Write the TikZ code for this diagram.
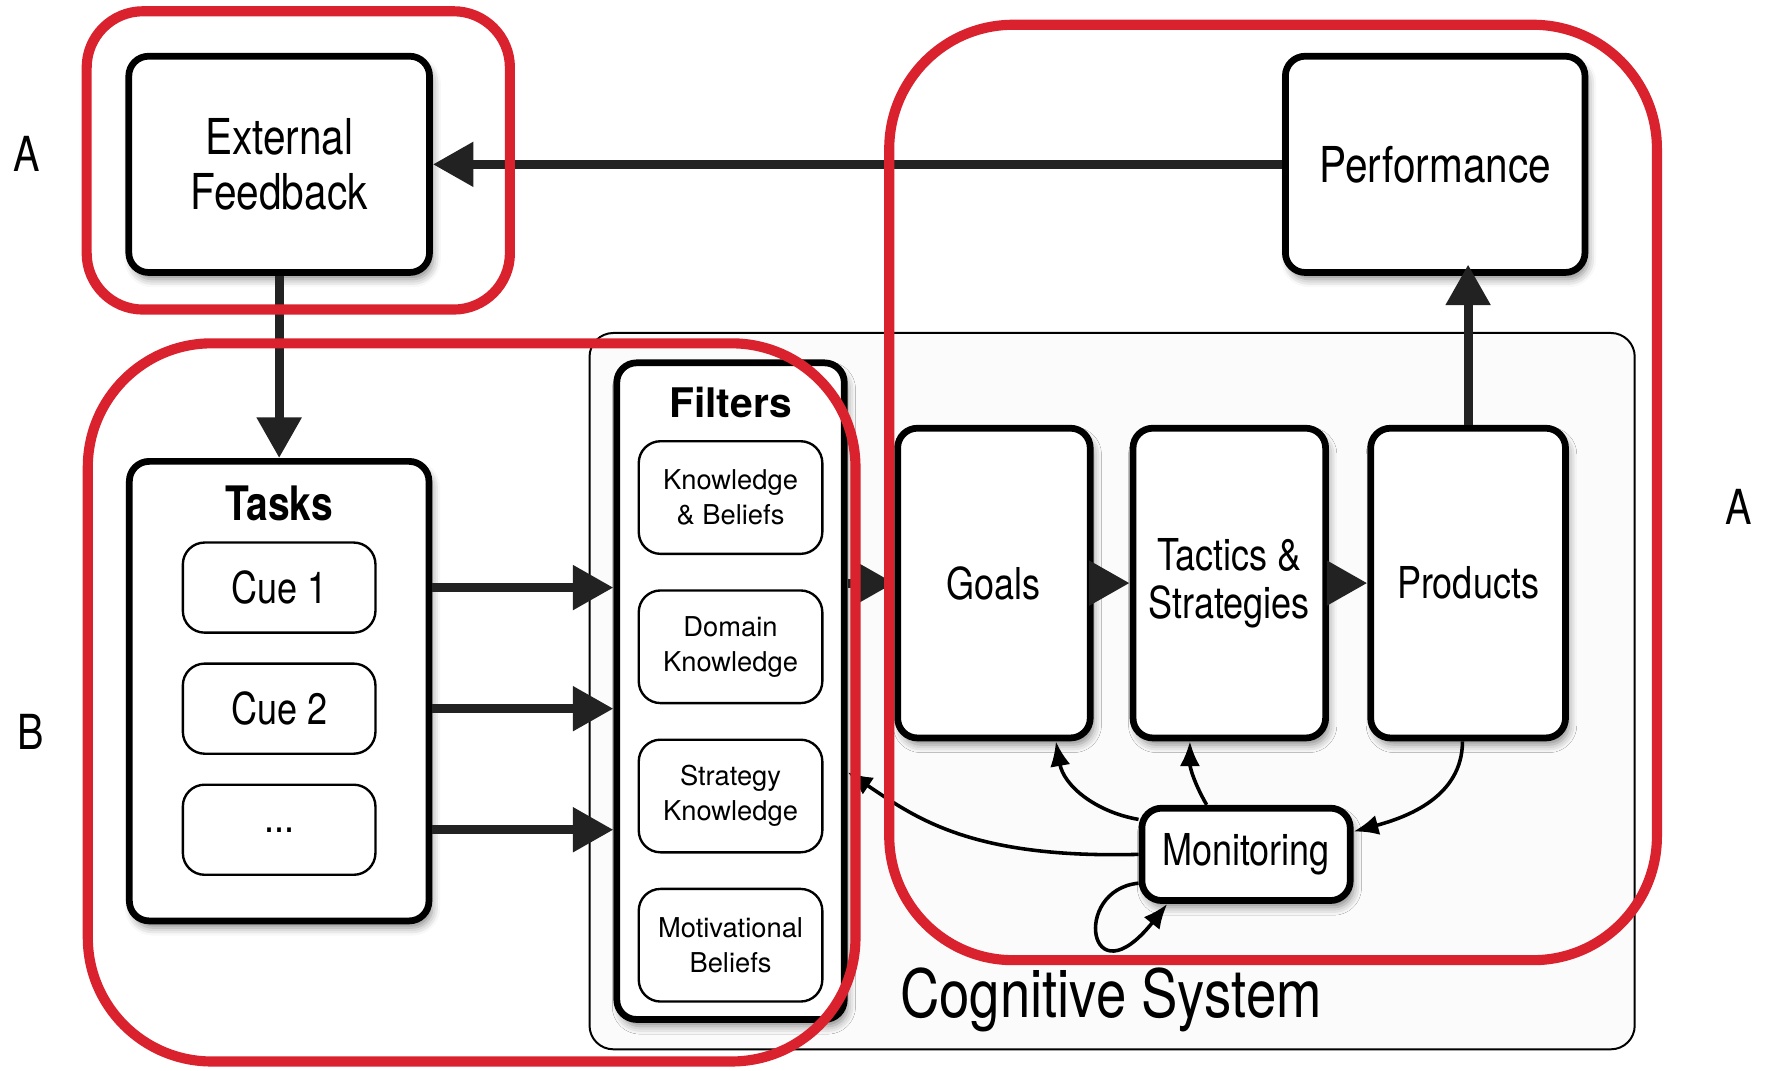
\documentclass[tikz,border=0pt]{standalone}
\usepackage{fontspec}
\setmainfont{TeX Gyre Heros}
\newfontfamily\narrowfont[FakeStretch=0.82]{TeX Gyre Heros}
\usetikzlibrary{positioning,arrows.meta,shadows.blur}

\definecolor{markred}{RGB}{218,34,46}
\definecolor{arrowgray}{RGB}{34,34,34}

\tikzset{
  box/.style={draw, line width=1.7pt, rounded corners=5pt, fill=white, align=center, inner sep=0pt,
    blur shadow={shadow xshift=0.03cm, shadow yshift=-0.06cm, shadow blur radius=0.07cm, shadow opacity=45},
    font=\narrowfont\fontsize{11.1}{12}\selectfont},
  bigbox/.style={box, font=\narrowfont\fontsize{12.5}{13.7}\selectfont},
  cue/.style={draw, line width=0.6pt, rounded corners=5.5pt, fill=white, minimum width=1.71cm,
    minimum height=0.8cm, inner sep=0pt, font=\narrowfont\fontsize{11.1}{12}\selectfont},
  filteritem/.style={draw, line width=0.6pt, rounded corners=5.5pt, fill=white, minimum width=1.63cm,
    minimum height=1cm, align=center, inner sep=0pt, font=\fontsize{6.9}{8.8}\selectfont},
  flow/.style={draw=arrowgray, line width=0.08cm, -{Triangle[length=0.36cm,width=0.38cm]}},
  monlink/.style={draw, line width=0.9pt, -{Latex[length=0.22cm,width=0.18cm]}},
  marking/.style={draw=markred, line width=0.09cm},
  letter/.style={font=\narrowfont\fontsize{12.2}{13}\selectfont}
}

\begin{document}
\begin{tikzpicture}[x=0.01cm, y=-0.01cm, on grid]
  \useasboundingbox (0,0) rectangle (1568,951);

  % cognitive system frame
  \node[draw, line width=0.5pt, rounded corners=6pt, fill=gray!3, minimum width=9.28cm,
    minimum height=6.36cm] (cogsys) at (988,614) {};
  \node[font=\narrowfont\fontsize{16.8}{18}\selectfont] (cogtitle) at (987,888) {Cognitive System};

  % top row
  \node[bigbox, minimum width=2.67cm, minimum height=1.92cm] (fb) at (248,146) {External\\Feedback};
  \node[bigbox, minimum width=2.66cm, minimum height=1.92cm] (perf) at (1275,146) {Performance};

  % tasks
  \node[box, minimum width=2.66cm, minimum height=4.08cm] (tasks) at (248,614) {};
  \node[font=\narrowfont\bfseries\fontsize{12}{13}\selectfont] (taskstitle) at (248,447) {Tasks};
  \node[cue] (cue1) at (248,522) {Cue 1};
  \node[cue, below=1.075cm of cue1] (cue2) {Cue 2};
  \node[cue, below=1.075cm of cue2] (cue3) {...};

  % filters
  \node[box, minimum width=2.02cm, minimum height=5.83cm] (filters) at (649,614) {};
  \node[font=\bfseries\fontsize{10.3}{12}\selectfont] (filtitle) at (649,358) {Filters};
  \node[filteritem] (kb) at (649,442) {Knowledge\\\& Beliefs};
  \node[filteritem, below=1.325cm of kb] (dk) {Domain\\Knowledge};
  \node[filteritem, below=1.325cm of dk] (sk) {Strategy\\Knowledge};
  \node[filteritem, below=1.325cm of sk] (mb) {Motivational\\Beliefs};

  % goals, tactics, products, monitoring
  \node[box, minimum width=1.71cm, minimum height=2.75cm] (goals) at (883,518) {Goals};
  \node[box, minimum width=1.71cm, minimum height=2.75cm, right=2.09cm of goals] (tactics) {Tactics \&\\Strategies};
  \node[box, minimum width=1.73cm, minimum height=2.75cm, right=2.12cm of tactics] (prod) {Products};
  \node[box, minimum width=1.85cm, minimum height=0.82cm] (mon) at (1107,759) {Monitoring};

  % thick flows
  \draw[flow] (perf) -- (fb);
  \draw[flow] (fb) -- (tasks);
  \foreach \c in {cue1,cue2,cue3}
    \draw[flow] (\c -| tasks.east) -- (\c -| filters.west);
  \draw[flow] (goals.west -| filters.east) -- (goals.west);
  \draw[flow] (goals) -- (tactics);
  \draw[flow] (tactics) -- (prod);
  \draw[flow, shorten >=-0.1cm] (prod.north) -- (prod.north |- perf.south);

  % monitoring links
  \draw[monlink] (mon.162) to[out=170,in=-80] ([xshift=0.55cm]goals.south);
  \draw[monlink] ([xshift=-0.35cm]mon.north) to[out=120,in=-90] ([xshift=-0.35cm]tactics.south);
  \draw[monlink] ([xshift=-0.05cm]prod.south) to[out=-90,in=15] (mon.12);
  \draw[monlink] (mon.west) .. controls +(-150,4) and +(60,40) .. ([yshift=-0.72cm]filters.east);
  \draw[monlink] (mon.195) .. controls +(-60,6) and +(-70,88) .. ([xshift=-0.7cm]mon.south);

  % red markings
  \draw[marking, rounded corners=0.5cm] (77,10) rectangle (453,275);
  \draw[marking, rounded corners=1.1cm] (790,22) rectangle (1472,853);
  \draw[marking, rounded corners=1.1cm] (78,305) rectangle (760,943);

  \node[letter] (labA1) at (24,137) {A};
  \node[letter] (labB) at (27,650) {B};
  \node[letter] (labA2) at (1545,450) {A};
\end{tikzpicture}
\end{document}
